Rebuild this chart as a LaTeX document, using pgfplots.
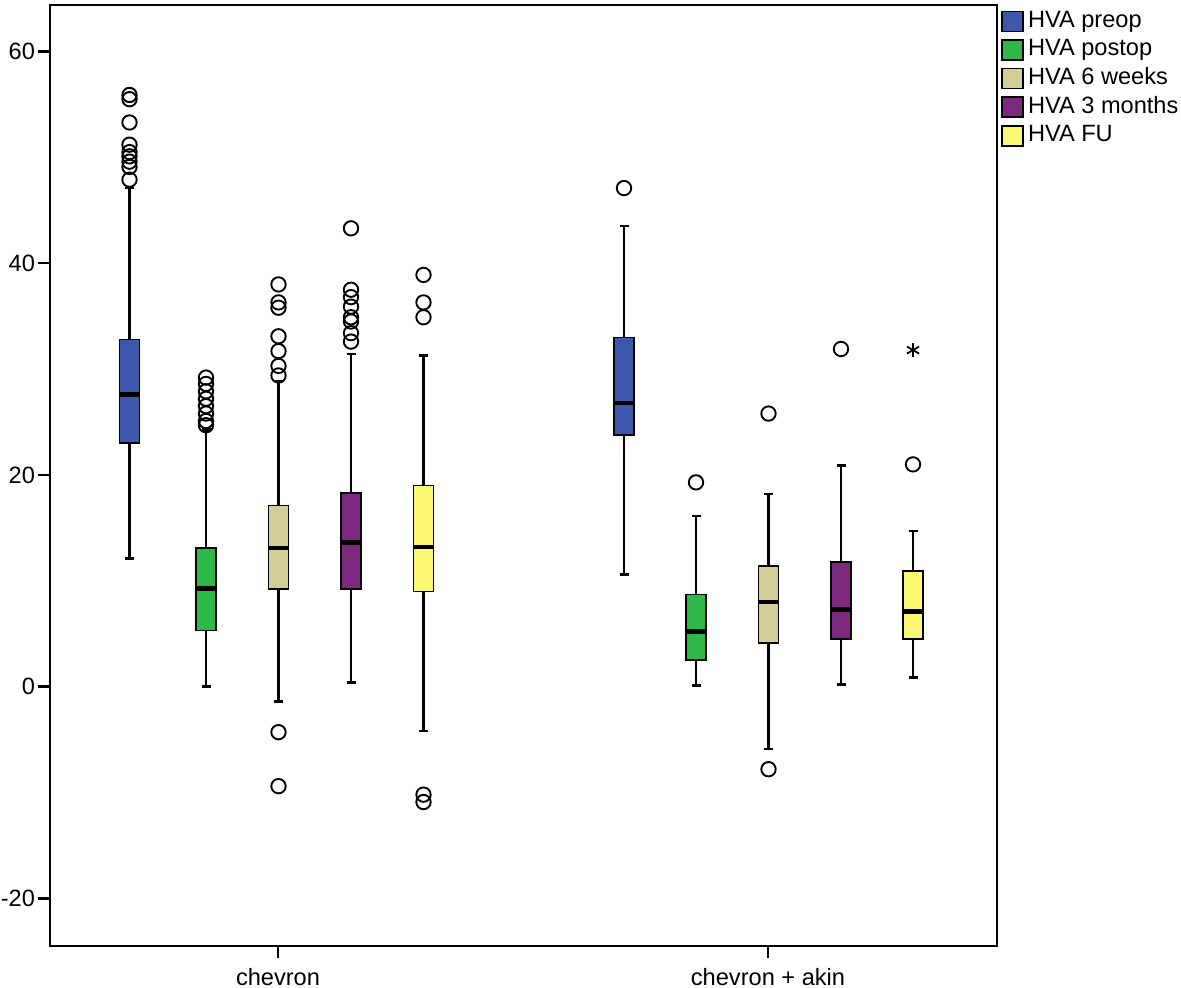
\documentclass[border=0pt]{standalone}
\usepackage{fontspec}
\setmainfont{Liberation Sans}
\usepackage{pgfplots}
\pgfplotsset{compat=1.18}
\definecolor{cPre}{RGB}{62,88,172}
\definecolor{cPost}{RGB}{46,184,72}
\definecolor{cSix}{RGB}{211,206,151}
\definecolor{cThree}{RGB}{124,40,125}
\definecolor{cFU}{RGB}{251,248,115}
\pgfplotsset{
  sqlegend/.style={legend image code/.code={\draw[##1] (0bp,-5bp) rectangle (10.5bp,5bp);}},
  wsk/.style={black, line width=1.2bp, mark=none, unbounded coords=jump},
  bx/.style={draw=black, fill=#1, line width=0.8bp, mark=none},
  md/.style={black, line width=2.4bp, mark=none},
}
\begin{document}
\begin{tikzpicture}
\useasboundingbox (-25bp,-21bp) rectangle (565.5bp,473bp);
\begin{axis}[
  scale only axis, width=473.5bp, height=470.5bp,
  xmin=50, xmax=997, ymin=-24.5, ymax=64.4,
  axis line style={line width=1bp},
  xtick={278,768}, xticklabels={chevron, chevron + akin},
  ytick={-20,0,20,40,60},
  tick pos=left, tick align=outside,
  major tick length=6bp,
  tick style={line width=1.2bp, black},
  /pgf/number format/assume math mode=true,
  ticklabel style={font=\fontsize{11.8bp}{13bp}\selectfont},
  yticklabel style={xshift=2bp},
  xticklabel style={yshift=-1.5bp},
  legend style={at={(1,1)}, anchor=north west, xshift=2bp, yshift=-1.5bp,
    draw=none, fill=none, inner sep=0pt, row sep=1.3bp,
    font=\fontsize{11.8bp}{13bp}\selectfont,
    nodes={inner ysep=1bp, inner xsep=2bp, text height=8.5bp, text depth=2.5bp}},
  legend cell align=left,
]
% ===== whiskers with caps (lower whisker, lower quartile | upper quartile, upper whisker) =====
% chevron
\addplot[wsk, forget plot] coordinates {(129.5,12.1) (129.5,23.0) (nan,nan) (129.5,32.8) (129.5,47.1) (nan,nan) (125,12.1) (134,12.1) (nan,nan) (125,47.1) (134,47.1)};
\addplot[wsk, forget plot] coordinates {(206,0.0) (206,5.3) (nan,nan) (206,13.1) (206,24.3) (nan,nan) (201.5,0.0) (210.5,0.0) (nan,nan) (201.5,24.3) (210.5,24.3)};
\addplot[wsk, forget plot] coordinates {(278.5,-1.4) (278.5,9.2) (nan,nan) (278.5,17.1) (278.5,28.9) (nan,nan) (274,-1.4) (283,-1.4) (nan,nan) (274,28.9) (283,28.9)};
\addplot[wsk, forget plot] coordinates {(351,0.4) (351,9.25) (nan,nan) (351,18.3) (351,31.4) (nan,nan) (346.5,0.4) (355.5,0.4) (nan,nan) (346.5,31.4) (355.5,31.4)};
\addplot[wsk, forget plot] coordinates {(423.5,-4.2) (423.5,9.0) (nan,nan) (423.5,19.0) (423.5,31.3) (nan,nan) (419,-4.2) (428,-4.2) (nan,nan) (419,31.3) (428,31.3)};
% chevron + akin
\addplot[wsk, forget plot] coordinates {(624,10.6) (624,23.8) (nan,nan) (624,33.0) (624,43.5) (nan,nan) (619.5,10.6) (628.5,10.6) (nan,nan) (619.5,43.5) (628.5,43.5)};
\addplot[wsk, forget plot] coordinates {(696,0.1) (696,2.5) (nan,nan) (696,8.7) (696,16.1) (nan,nan) (691.5,0.1) (700.5,0.1) (nan,nan) (691.5,16.1) (700.5,16.1)};
\addplot[wsk, forget plot] coordinates {(768.5,-5.9) (768.5,4.1) (nan,nan) (768.5,11.4) (768.5,18.2) (nan,nan) (764,-5.9) (773,-5.9) (nan,nan) (764,18.2) (773,18.2)};
\addplot[wsk, forget plot] coordinates {(841,0.2) (841,4.5) (nan,nan) (841,11.8) (841,20.9) (nan,nan) (836.5,0.2) (845.5,0.2) (nan,nan) (836.5,20.9) (845.5,20.9)};
\addplot[wsk, forget plot] coordinates {(913,0.85) (913,4.5) (nan,nan) (913,10.9) (913,14.7) (nan,nan) (908.5,0.85) (917.5,0.85) (nan,nan) (908.5,14.7) (917.5,14.7)};
% ===== boxes (lower quartile to upper quartile) =====
\addplot[bx=cPre, forget plot]   coordinates {(119.5,23.0) (139.5,23.0) (139.5,32.8) (119.5,32.8)} -- cycle;
\addplot[bx=cPost, forget plot]  coordinates {(196,5.3) (216,5.3) (216,13.1) (196,13.1)} -- cycle;
\addplot[bx=cSix, forget plot]   coordinates {(268.5,9.2) (288.5,9.2) (288.5,17.1) (268.5,17.1)} -- cycle;
\addplot[bx=cThree, forget plot] coordinates {(341,9.25) (361,9.25) (361,18.3) (341,18.3)} -- cycle;
\addplot[bx=cFU, forget plot]    coordinates {(413.5,9.0) (433.5,9.0) (433.5,19.0) (413.5,19.0)} -- cycle;
\addplot[bx=cPre, forget plot]   coordinates {(614,23.8) (634,23.8) (634,33.0) (614,33.0)} -- cycle;
\addplot[bx=cPost, forget plot]  coordinates {(686,2.5) (706,2.5) (706,8.7) (686,8.7)} -- cycle;
\addplot[bx=cSix, forget plot]   coordinates {(758.5,4.1) (778.5,4.1) (778.5,11.4) (758.5,11.4)} -- cycle;
\addplot[bx=cThree, forget plot] coordinates {(831,4.5) (851,4.5) (851,11.8) (831,11.8)} -- cycle;
\addplot[bx=cFU, forget plot]    coordinates {(903,4.5) (923,4.5) (923,10.9) (903,10.9)} -- cycle;
% ===== medians =====
\addplot[md, forget plot] coordinates {(119.5,27.6) (139.5,27.6)};
\addplot[md, forget plot] coordinates {(196,9.25) (216,9.25)};
\addplot[md, forget plot] coordinates {(268.5,13.1) (288.5,13.1)};
\addplot[md, forget plot] coordinates {(341,13.6) (361,13.6)};
\addplot[md, forget plot] coordinates {(413.5,13.2) (433.5,13.2)};
\addplot[md, forget plot] coordinates {(614,26.8) (634,26.8)};
\addplot[md, forget plot] coordinates {(686,5.2) (706,5.2)};
\addplot[md, forget plot] coordinates {(758.5,8.0) (778.5,8.0)};
\addplot[md, forget plot] coordinates {(831,7.3) (851,7.3)};
\addplot[md, forget plot] coordinates {(903,7.1) (923,7.1)};
% ===== outliers =====
\addplot[only marks, mark=o, mark size=3.6bp, mark options={draw=black, line width=0.95bp}, forget plot] coordinates {
  (129.5,47.9) (129.5,49.1) (129.5,49.6) (129.5,50.1) (129.5,50.5) (129.5,51.2) (129.5,53.3) (129.5,55.5) (129.5,55.9)
  (206,24.7) (206,25.1) (206,25.8) (206,26.5) (206,27.2) (206,27.9) (206,28.6) (206,29.2)
  (278.5,29.4) (278.5,30.3) (278.5,31.7) (278.5,33.1) (278.5,35.8) (278.5,36.3) (278.5,38.0) (278.5,-4.3) (278.5,-9.4)
  (351,32.6) (351,33.4) (351,34.5) (351,34.9) (351,35.9) (351,36.8) (351,37.5) (351,43.3)
  (423.5,34.9) (423.5,36.3) (423.5,38.9) (423.5,-10.2) (423.5,-10.9)
  (624,47.1)
  (696,19.3)
  (768.5,25.8) (768.5,-7.8)
  (841,31.9)
  (913,21.0)
};
% extreme value
\addplot[only marks, mark=asterisk, mark size=3.5bp, mark options={black, line width=0.9bp}, forget plot]
  coordinates {(913,31.8)};
% legend
\addlegendimage{sqlegend, fill=cPre, draw=black, line width=0.8bp}
\addlegendentry{HVA preop}
\addlegendimage{sqlegend, fill=cPost, draw=black, line width=0.8bp}
\addlegendentry{HVA postop}
\addlegendimage{sqlegend, fill=cSix, draw=black, line width=0.8bp}
\addlegendentry{HVA 6 weeks}
\addlegendimage{sqlegend, fill=cThree, draw=black, line width=0.8bp}
\addlegendentry{HVA 3 months}
\addlegendimage{sqlegend, fill=cFU, draw=black, line width=0.8bp}
\addlegendentry{HVA FU}
\end{axis}
\end{tikzpicture}
\end{document}
